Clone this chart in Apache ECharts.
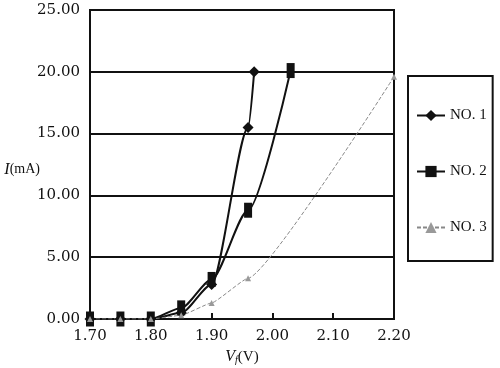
<!DOCTYPE html>
<html>
<head>
<meta charset="utf-8">
<script src="https://cdn.jsdelivr.net/npm/echarts@6/dist/echarts.min.js"></script>
<style>html,body{margin:0;padding:0;background:#fff;}#c{width:500px;height:368px;}</style>
</head>
<body>
<div id="c"></div>
<script>
var voltages1 = [1.70, 1.75, 1.80, 1.85, 1.90, 1.96, 1.97];
var current1  = [0, 0, 0, 0.5, 2.8, 15.5, 20.0];
var voltages2 = [1.70, 1.75, 1.80, 1.85, 1.90, 1.96, 2.03];
var current2  = [0, 0, 0, 0.9, 3.2, 8.8, 20.1];
var voltages3 = [1.70, 1.75, 1.80, 1.85, 1.90, 1.96, 2.20];
var current3  = [0, 0, 0, 0.3, 1.3, 3.3, 19.6];
var seriesNames = ['NO. 1', 'NO. 2', 'NO. 3'];

function pairs(xs, ys){ return xs.map(function(x,i){ return [x, ys[i]]; }); }

var FONT = '"DejaVu Serif", "Liberation Serif", serif';
var FONT2 = '"Liberation Serif", "DejaVu Serif", serif';
var chart = echarts.init(document.getElementById('c'));
chart.setOption({
  animation: false,
  backgroundColor: '#fff',
  grid: { left: 90, right: 106, top: 10, bottom: 49, containLabel: false, outerBoundsMode: 'none',
          show: true, borderColor: '#111', borderWidth: 2, backgroundColor: 'transparent' },
  legend: {
    orient: 'vertical', left: 408, top: 76,
    padding: [32, 6, 26, 8], itemGap: 41,
    itemWidth: 28, itemHeight: 14,
    borderColor: '#111', borderWidth: 2,
    textStyle: { fontFamily: FONT2, fontSize: 15, color: '#111' },
    data: seriesNames
  },
  xAxis: {
    type: 'value', min: 1.7, max: 2.2, interval: 0.1,
    name: '{v|V}{f|f}{p|(V)}', nameLocation: 'middle', nameGap: 30, nameMoveOverlap: false,
    nameTextStyle: { rich: {
      v: { fontFamily: FONT2, fontStyle: 'italic', fontSize: 16, color: '#111' },
      f: { fontFamily: FONT2, fontStyle: 'italic', fontSize: 10, color: '#111', verticalAlign: 'bottom', padding: [6,0,0,0] },
      p: { fontFamily: FONT2, fontSize: 15, color: '#111' }
    }},
    axisLine: { show: true, lineStyle: { color: '#111', width: 2 } },
    axisTick: { show: true, inside: true, length: 6, lineStyle: { color: '#111', width: 2 } },
    axisLabel: { fontFamily: FONT, fontSize: 15, color: '#111', margin: 10, formatter: function(v){ return v.toFixed(2); } },
    splitLine: { show: false }
  },
  yAxis: {
    type: 'value', min: 0, max: 25, interval: 5,
    name: '{i|I}{p|(mA)}', nameLocation: 'middle', nameGap: 50, nameRotate: 0, nameMoveOverlap: false,
    nameTextStyle: { padding: [10, 0, 0, 0], rich: {
      i: { fontFamily: FONT2, fontStyle: 'italic', fontSize: 16, color: '#111' },
      p: { fontFamily: FONT2, fontSize: 14, color: '#111' }
    }},
    axisLine: { show: true, lineStyle: { color: '#111', width: 2 } },
    axisTick: { show: false },
    axisLabel: { fontFamily: FONT, fontSize: 15, color: '#111', margin: 10, formatter: function(v){ return v.toFixed(2); } },
    splitLine: { show: true, lineStyle: { color: '#111', width: 2 } }
  },
  series: [
    { name: seriesNames[0], type: 'line', data: pairs(voltages1, current1), smooth: 0.25, smoothMonotone: 'x',
      symbol: 'diamond', symbolSize: 11, lineStyle: { color: '#111', width: 2 }, itemStyle: { color: '#111' } },
    { name: seriesNames[1], type: 'line', data: pairs(voltages2, current2), smooth: 0.25, smoothMonotone: 'x',
      symbol: 'rect', symbolSize: [8, 15], lineStyle: { color: '#111', width: 2 }, itemStyle: { color: '#111' } },
    { name: seriesNames[2], type: 'line', data: pairs(voltages3, current3), smooth: 0.12, smoothMonotone: 'x',
      symbol: 'triangle', symbolSize: 6, lineStyle: { color: '#888', width: 1, type: [4, 2] }, itemStyle: { color: '#999' } }
  ]
});
</script>
</body>
</html>
